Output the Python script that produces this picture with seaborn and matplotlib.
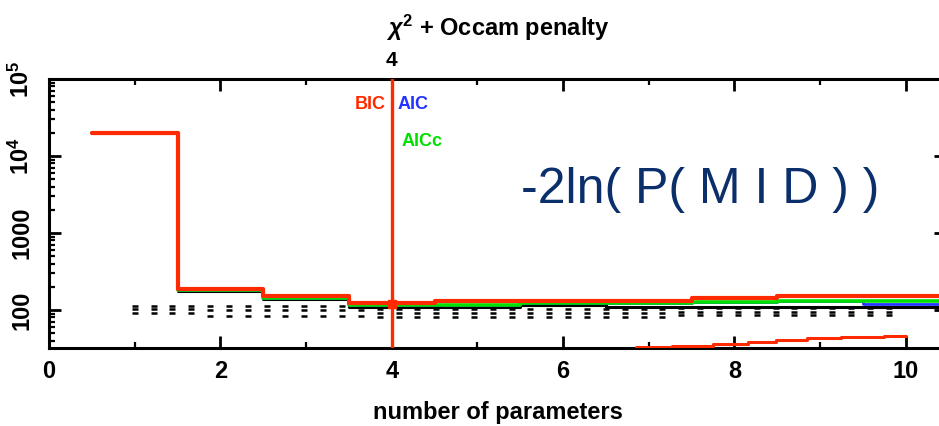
import matplotlib
matplotlib.use("Agg")
import matplotlib.pyplot as plt
import matplotlib.ticker as mticker
import numpy as np
import pandas as pd
import seaborn as sns

# ---- data -------------------------------------------------------------
# step edges (model with n parameters spans n-0.5 .. n+0.5)
step_edges = [0.5, 1.5, 2.5, 3.5, 4.5, 5.5, 6.5, 7.5, 8.5, 9.5, 10.5]
chi2_vals = [20000, 176, 137, 108, 108, 116, 108, 108, 108, 108, 108]
aic_vals = [20000, 180, 143, 116, 116, 125, 125, 127, 132, 120, 120]
aicc_vals = [20000, 180, 143, 116, 116, 125, 125, 127, 132, 132, 132]
bic_vals = [20000, 188, 152, 124, 132, 132, 132, 142, 150, 150, 150]

# lower curve
low_edges = [6.85, 7.27, 7.75, 8.16, 8.49, 8.85, 9.25, 9.75, 10.0]
low_vals = [33.0, 34.2, 36.2, 38.4, 40.8, 43.3, 44.6, 46.0, 46.0]

# sampled values shown as dash columns
dash_x = [1.00, 1.22, 1.44, 1.66, 1.88, 2.10, 2.32, 2.54, 2.76, 2.98, 3.20,
          3.42, 3.64, 3.86, 4.08, 4.30, 4.52, 4.74, 4.96, 5.18, 5.40, 5.62,
          5.84, 6.06, 6.28, 6.50, 6.72, 6.94, 7.16, 7.38, 7.60, 7.82, 8.04,
          8.26, 8.48, 8.70, 8.92, 9.14, 9.36, 9.58, 9.80]
dash_top = [114, 114, 114, 114, 114, 114, 114, 114, 114, 114, 114,
            114, 114, 104, 104, 104, 104, 104, 104, 104, 104, 104,
            104, 104, 104, 104, 104, 104, 104, 106, 106, 106, 106,
            106, 106, 106, 106, 106, 106, 106, 106]
dash_mid = [103, 103, 103, 103, 101, 101, 101, 101, 101, 101, 101,
            101, 101, 92, 92, 92, 92, 92, 92, 92, 92, 92,
            92, 92, 92, 92, 92, 92, 92, 95, 95, 95, 95,
            95, 95, 95, 95, 95, 95, 95, 95]
dash_bot = [92, 92, 92, 92, 84, 84, 84, 84, 84, 84, 84,
            84, 84, 82, 82, 82, 82, 82, 82, 82, 82, 82,
            82, 82, 82, 82, 82, 82, 82, 85, 85, 85, 85,
            85, 85, 85, 85, 85, 85, 85, 85]

y_ticks = [100, 1000, 1e4, 1e5]
y_tick_labels = ["100", "1000", "$10^4$", "$10^5$"]
x_ticks = [0, 2, 4, 6, 8, 10]
chosen_n = 4

# ---- style ------------------------------------------------------------
sns.set_style("ticks")
plt.rcParams["font.family"] = ["Liberation Sans", "DejaVu Sans"]
plt.rcParams["text.color"] = "black"
plt.rcParams["xtick.color"] = "black"
plt.rcParams["ytick.color"] = "black"
plt.rcParams["mathtext.fontset"] = "custom"
plt.rcParams["mathtext.rm"] = "Liberation Sans:bold"
plt.rcParams["mathtext.it"] = "Liberation Sans:italic:bold"
plt.rcParams["mathtext.bf"] = "Liberation Sans:bold"

RED = "#ff2a00"
GREEN = "#00e000"
BLUE = "#2233ff"
NAVY = "#0b2f6b"

fig = plt.figure(figsize=(9.39, 4.26), dpi=100)
ax = fig.add_axes([49 / 939, 78 / 426, 897 / 939, 269 / 426])

ax.set_yscale("log")
ax.set_xlim(0, 10.47)
ax.set_ylim(32.1, 1e5)

# dash columns
dash_df = pd.DataFrame({
    "x": dash_x * 3,
    "y": dash_top + dash_mid + dash_bot,
})
sns.scatterplot(data=dash_df, x="x", y="y", ax=ax, marker="_", s=18,
                color="black", linewidth=1.8, zorder=2, legend=False)

def steps(edges, vals, color, lw, z):
    df = pd.DataFrame({"x": edges, "y": vals})
    sns.lineplot(data=df, x="x", y="y", ax=ax, color=color, linewidth=lw,
                 drawstyle="steps-post", estimator=None, sort=False,
                 zorder=z, legend=False)

steps(step_edges, chi2_vals, "black", 2.2, 3)
steps(step_edges, aic_vals, BLUE, 2.0, 4)
steps(step_edges, aicc_vals, GREEN, 2.6, 5)
steps(step_edges, bic_vals, RED, 3.0, 6)
steps(low_edges, low_vals, RED, 2.2, 6)

# selected model
ax.axvline(chosen_n, color=RED, linewidth=2.4, zorder=7)
ax.plot([chosen_n], [118], marker="s", markersize=6, color=RED, zorder=8)

ax.text(3.93, 4.6e4, "BIC", color=RED, ha="right", va="center",
        fontsize=13, fontweight="bold")
ax.text(4.07, 4.6e4, "AIC", color=BLUE, ha="left", va="center",
        fontsize=13, fontweight="bold")
ax.text(4.11, 1.52e4, "AICc", color=GREEN, ha="left", va="center",
        fontsize=13, fontweight="bold")
ax.text(chosen_n, 1.07, "4", transform=ax.get_xaxis_transform(),
        ha="center", va="center", fontsize=15, fontweight="bold")

# axes styling
for sp in ax.spines.values():
    sp.set_visible(True)
    sp.set_linewidth(2.2)
    sp.set_color("black")

ax.set_xticks(x_ticks)
ax.set_xticklabels([str(t) for t in x_ticks])
ax.xaxis.set_minor_locator(mticker.FixedLocator([1, 3, 5, 7, 9]))
ax.set_yticks(y_ticks)
ax.set_yticklabels(y_tick_labels, rotation=90, va="center")
ax.yaxis.set_minor_locator(mticker.LogLocator(base=10, subs=np.arange(2, 10)))
ax.yaxis.set_minor_formatter(mticker.NullFormatter())

ax.tick_params(axis="both", which="major", direction="in", top=True,
               right=True, length=8.5, width=2.0, labelsize=17, pad=9)
ax.tick_params(axis="both", which="minor", direction="in", top=True,
               right=True, length=4.3, width=1.6)
ax.tick_params(axis="y", which="major", pad=11)
for lab in ax.get_xticklabels() + ax.get_yticklabels():
    lab.set_fontweight("bold")

ax.set_xlabel("")
ax.set_ylabel("")

fig.text(498 / 939, 1 - 28 / 426, "$\\chi^2$ + Occam penalty", ha="center",
         va="center", fontsize=17, fontweight="bold")
fig.text(498 / 939, 1 - 412 / 426, "number of parameters", ha="center",
         va="center", fontsize=17, fontweight="bold")
fig.text(700 / 939, 1 - 190 / 426, "-2ln( P( M I D ) )", ha="center",
         va="center", fontsize=36, color=NAVY)

fig.savefig("out.png", dpi=100)
